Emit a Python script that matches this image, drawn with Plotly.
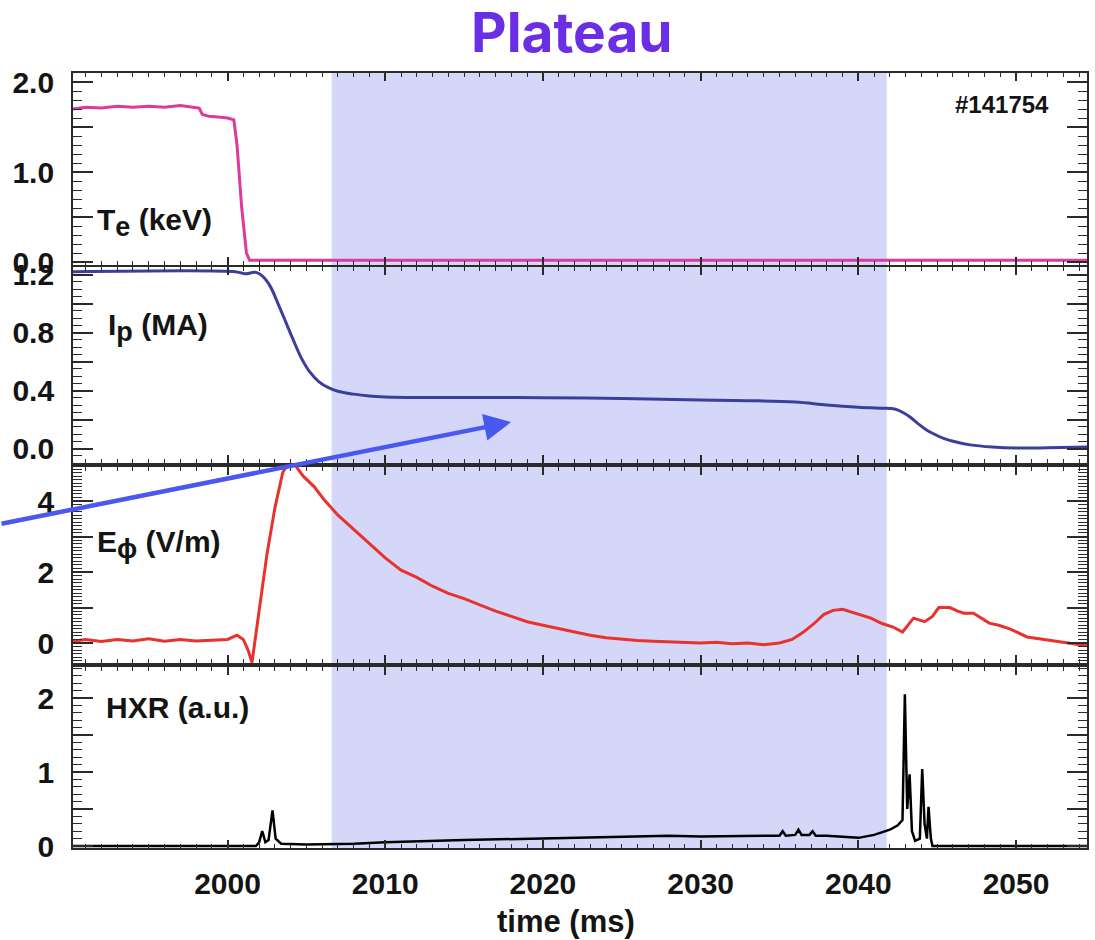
import plotly.graph_objects as go

# ---------------- data ----------------
te_t = [1990.2, 1991, 1992, 1993, 1994, 1995, 1996, 1997, 1997.8, 1998.2, 1998.4, 1998.8, 1999.4, 2000.0,
        2000.4, 2000.6, 2000.9, 2001.2, 2001.4, 2054.5]
te_v = [1.70, 1.72, 1.71, 1.73, 1.72, 1.73, 1.72, 1.74, 1.72, 1.71, 1.64, 1.62, 1.61, 1.60,
        1.58, 1.30, 0.60, 0.10, 0.02, 0.02]

ip_t = [1990.2, 2000.5, 2000.9, 2001.2, 2001.5, 2001.8, 2002.2, 2002.7, 2003.2, 2003.7, 2004.2, 2004.7,
        2005.2, 2005.8, 2006.4, 2007, 2008, 2009, 2010, 2012, 2015, 2020, 2025, 2030, 2033, 2036, 2038,
        2040, 2041.5, 2042.3, 2042.8, 2043.3, 2043.8, 2044.3, 2044.8, 2045.4, 2046.2, 2047.1, 2048.5,
        2050, 2052, 2054.5]
ip_v = [1.22, 1.22, 1.21, 1.205, 1.212, 1.215, 1.19, 1.12, 1.0, 0.87, 0.74, 0.62,
        0.53, 0.46, 0.42, 0.395, 0.375, 0.362, 0.356, 0.352, 0.352, 0.35, 0.345, 0.335, 0.33, 0.32, 0.30,
        0.285, 0.278, 0.272, 0.25, 0.215, 0.17, 0.13, 0.10, 0.07, 0.045, 0.025, 0.01,
        0.003, 0.005, 0.01]

e_t = [1990.2, 1991, 1992, 1993, 1994, 1995, 1996, 1997, 1998, 1999, 2000, 2000.6, 2001.0, 2001.3,
       2001.55, 2002.0, 2002.5, 2003.0, 2003.5, 2003.9, 2004.3, 2004.8, 2005.5, 2006.1, 2007, 2008,
       2009, 2010, 2011, 2012, 2013, 2014, 2015, 2016, 2017, 2018, 2019, 2020, 2021, 2022, 2023,
       2024, 2025, 2026, 2027, 2028, 2029, 2030, 2031, 2032, 2033, 2034, 2035, 2035.8, 2036.5,
       2037.2, 2037.8, 2038.4, 2039, 2039.6, 2040.2, 2040.8, 2041.5, 2042.2, 2042.8, 2043.5, 2044.2,
       2044.7, 2045.1, 2045.8, 2046.3, 2046.7, 2047.3, 2048.3, 2048.9, 2049.6, 2050.7, 2052, 2053.3,
       2054.5]
e_v = [0.05, 0.10, 0.04, 0.10, 0.06, 0.12, 0.05, 0.10, 0.06, 0.08, 0.10, 0.22, 0.10, -0.20,
       -0.55, 0.90, 2.50, 3.80, 4.80, 5.10, 5.00, 4.70, 4.40, 4.05, 3.60, 3.20,
       2.80, 2.40, 2.05, 1.85, 1.60, 1.40, 1.25, 1.07, 0.90, 0.75, 0.60, 0.50, 0.40, 0.30, 0.22,
       0.15, 0.10, 0.07, 0.05, 0.04, 0.03, 0.00, 0.02, -0.02, 0.00, -0.05, 0.00, 0.10, 0.30,
       0.55, 0.80, 0.92, 0.95, 0.87, 0.80, 0.70, 0.55, 0.45, 0.31, 0.70, 0.60,
       0.75, 1.00, 1.00, 0.90, 0.84, 0.84, 0.56, 0.50, 0.40, 0.17, 0.08, 0.00,
       -0.08]

hxr_t = [1990.2, 2001.8, 2002.0, 2002.2, 2002.4, 2002.6, 2002.85, 2003.05, 2003.4, 2005, 2008, 2010,
         2015, 2020, 2025, 2028, 2030, 2033, 2035, 2035.2, 2035.4, 2036, 2036.2, 2036.4, 2036.9,
         2037.1, 2037.3, 2038, 2039, 2040, 2041, 2042, 2042.5, 2042.8, 2042.95, 2043.1, 2043.25,
         2043.4, 2043.6, 2043.9, 2044.05, 2044.2, 2044.35, 2044.45, 2044.6, 2044.7, 2054.5]
hxr_v = [0.0, 0.0, 0.05, 0.20, 0.05, 0.08, 0.48, 0.10, 0.03, 0.02, 0.03, 0.05,
         0.08, 0.10, 0.12, 0.14, 0.13, 0.13, 0.14, 0.20, 0.14, 0.15, 0.22, 0.15, 0.15,
         0.20, 0.14, 0.14, 0.12, 0.11, 0.15, 0.22, 0.28, 0.35, 2.05, 0.50, 0.97,
         0.20, 0.07, 0.10, 1.04, 0.30, 0.10, 0.53, 0.10, 0.0, 0.0]

plateau = [2006.6, 2041.8]
x_range = [1990.2, 2054.5]
x_ticks = [2000, 2010, 2020, 2030, 2040, 2050]

te_ticks = [0, 0.5, 1.0, 1.5, 2.0]
te_text = ["0.0", "", "1.0", "", "2.0"]
ip_ticks = [0, 0.2, 0.4, 0.6, 0.8, 1.0, 1.2]
ip_text = ["0.0", "", "0.4", "", "0.8", "", "1.2"]
e_ticks = [0, 1, 2, 3, 4]
e_text = ["0", "", "2", "", "4"]
hxr_ticks = [0, 0.5, 1, 1.5, 2]
hxr_text = ["0", "", "1", "", "2"]

# ---------------- layout geometry ----------------
W, H = 1095, 940
ML, MR, MT, MB = 73, 6, 73, 92
PW, PH = W - ML - MR, H - MT - MB


def pxx(px):
    return (px - ML) / PW


def pxy(py):
    return (H - MB - py) / PH


FONT = "Liberation Sans, Arial, sans-serif"
INK = "#141414"

fig = go.Figure()
fig.add_trace(go.Scatter(x=te_t, y=te_v, mode="lines", line=dict(color="#dd3a9c", width=3),
                         xaxis="x", yaxis="y", showlegend=False))
fig.add_trace(go.Scatter(x=ip_t, y=ip_v, mode="lines", line=dict(color="#3a3f9e", width=3, shape="spline"),
                         xaxis="x2", yaxis="y2", showlegend=False))
fig.add_trace(go.Scatter(x=e_t, y=e_v, mode="lines", line=dict(color="#e8322e", width=3),
                         xaxis="x3", yaxis="y3", showlegend=False))
fig.add_trace(go.Scatter(x=hxr_t, y=hxr_v, mode="lines", line=dict(color="#000000", width=2.5),
                         xaxis="x4", yaxis="y4", showlegend=False))

common = dict(showline=True, linecolor="#2a2a2a", linewidth=1.8, mirror="allticks",
              ticks="inside", tickcolor="#2a2a2a", showgrid=False, zeroline=False)

domains = [
    [pxy(265), 1.0],
    [pxy(463), pxy(267)],
    [pxy(663), pxy(467)],
    [0.0, pxy(667)],
]
yranges = [[-0.033, 2.1], [-0.1, 1.252], [-0.563, 4.958], [-0.027, 2.419]]
yticks = [(te_ticks, te_text, 0.1), (ip_ticks, ip_text, 0.05), (e_ticks, e_text, 0.1),
          (hxr_ticks, hxr_text, 0.1)]

tickfont = dict(family=FONT, size=30, color=INK, weight="bold")

lay = {}
for i in range(4):
    sx = "" if i == 0 else str(i + 1)
    lay["xaxis" + sx] = dict(
        **common, range=x_range, anchor="y" + sx, domain=[0, 1],
        tickvals=x_ticks, ticklen=8, tickwidth=1.5,
        minor=dict(ticks="inside", dtick=1, tick0=2000, ticklen=4, tickcolor="#2a2a2a", tickwidth=1),
        showticklabels=(i == 3),
        tickfont=tickfont,
        ticklabelstandoff=8,
    )
    tv, tt, md = yticks[i]
    lay["yaxis" + sx] = dict(
        **common, range=yranges[i], anchor="x" + sx, domain=domains[i],
        tickvals=tv, ticktext=tt, ticklen=20, tickwidth=1.5,
        minor=dict(ticks="inside", dtick=md, tick0=0, ticklen=9, tickcolor="#2a2a2a", tickwidth=1),
        tickfont=tickfont,
        ticklabelstandoff=11,
    )

lbl = dict(family=FONT, size=30, color=INK)
sub = '<sub><span style="font-size:27px">%s</span></sub>'
annotations = [
    dict(text="<b>T" + sub % "e" + " (keV)</b>", x=pxx(95), y=pxy(222), xref="paper", yref="paper",
         xanchor="left", yanchor="middle", showarrow=False, font=lbl),
    dict(text="<b>I" + sub % "p" + " (MA)</b>", x=pxx(106), y=pxy(327), xref="paper", yref="paper",
         xanchor="left", yanchor="middle", showarrow=False, font=lbl),
    dict(text="<b>E" + sub % "ϕ" + " (V/m)</b>", x=pxx(95), y=pxy(544), xref="paper", yref="paper",
         xanchor="left", yanchor="middle", showarrow=False, font=lbl),
    dict(text="<b>HXR (a.u.)</b>", x=pxx(104), y=pxy(707), xref="paper", yref="paper",
         xanchor="left", yanchor="middle", showarrow=False, font=lbl),
    dict(text="<b>#141754</b>", x=pxx(1004), y=pxy(104), xref="paper", yref="paper",
         xanchor="center", yanchor="middle", showarrow=False,
         font=dict(family=FONT, size=24, color=INK)),
    dict(text="<b>time (ms)</b>", x=pxx(567), y=pxy(921), xref="paper", yref="paper",
         xanchor="center", yanchor="middle", showarrow=False, font=dict(family=FONT, size=31, color=INK)),
    dict(text="<b>Plateau</b>", x=pxx(573), y=pxy(32), xref="paper", yref="paper",
         xanchor="center", yanchor="middle", showarrow=False,
         font=dict(family="Inter, Lato, sans-serif", size=55, color="#6a2fe4")),
    dict(text="", x=pxx(512), y=pxy(422), xref="paper", yref="paper",
         ax=-512, ay=102, axref="pixel", ayref="pixel", showarrow=True,
         arrowhead=2, arrowwidth=4.5, arrowsize=1.2, arrowcolor="#4a58f2"),
]

fig.update_layout(
    width=W, height=H, margin=dict(l=ML, r=MR, t=MT, b=MB),
    paper_bgcolor="white", plot_bgcolor="rgba(0,0,0,0)",
    annotations=annotations,
    shapes=[dict(type="rect", xref="x", yref="paper", x0=plateau[0], x1=plateau[1], y0=0, y1=1,
                 fillcolor="#d5d7f9", line=dict(width=0), layer="below")],
    **lay,
)

fig.write_html("out.html")
